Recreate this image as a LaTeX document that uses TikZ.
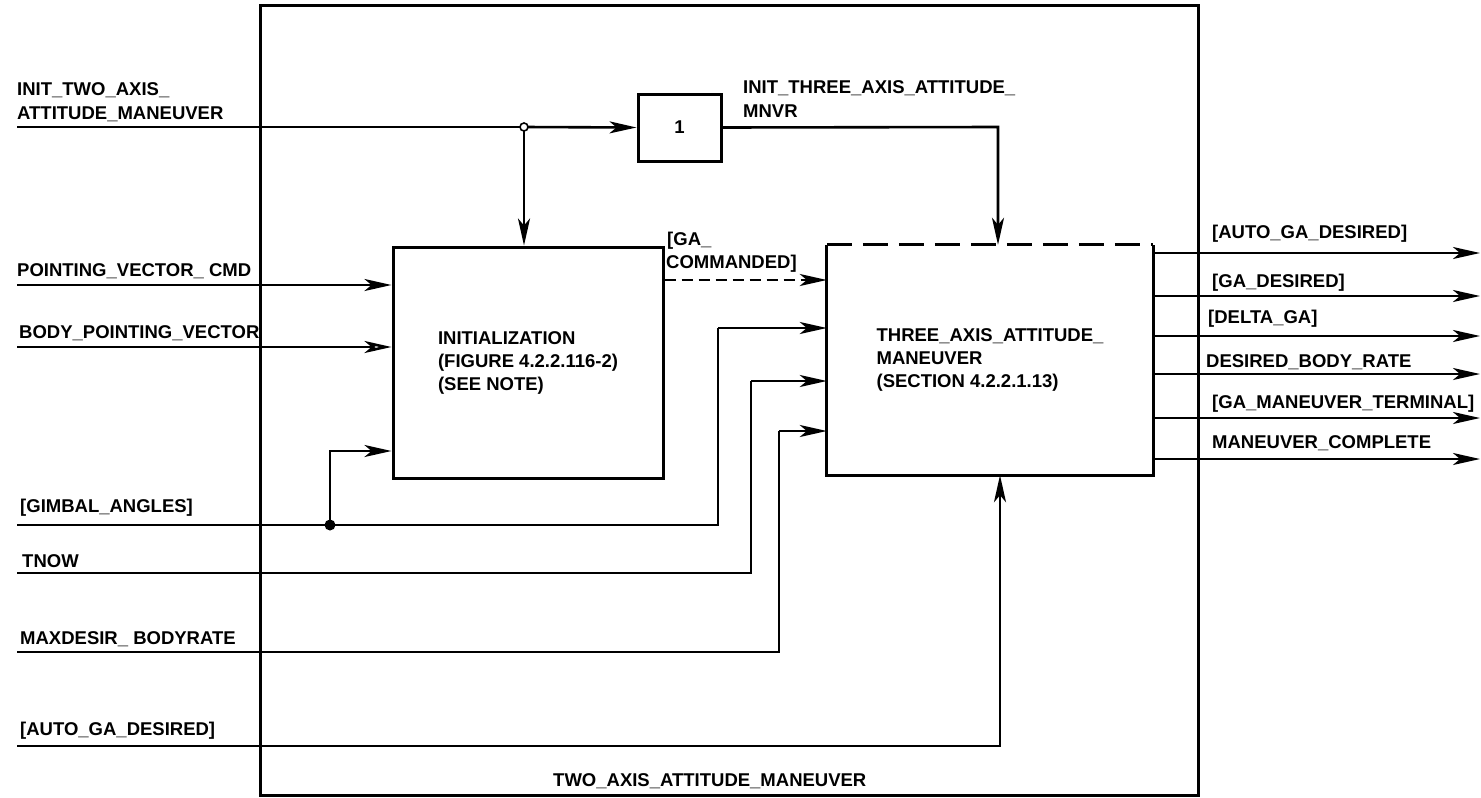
\documentclass[tikz,border=0pt]{standalone}
\usepackage{fontspec}
\setmainfont{Liberation Sans}
\usetikzlibrary{arrows.meta}
\begin{document}
\begin{tikzpicture}[x=1pt,y=-1pt,
  lbl/.style={font=\fontsize{18.5}{23}\selectfont\bfseries, inner sep=0pt, anchor=base west},
  boxtxt/.style={font=\fontsize{18.5}{23}\selectfont\bfseries, align=left, inner sep=0pt},
  wire/.style={line width=2.6pt},
  arr/.style={wire, -{Stealth[length=27pt,width=12pt,inset=7pt]}},
  oarr/.style={wire, -{Stealth[open,length=27pt,width=12pt,inset=7pt]}},
  boxline/.style={line width=3pt},
]
\useasboundingbox (0,0) rectangle (1481,798);

% outer box
\node[draw, boxline, minimum width=938pt, minimum height=790pt, inner sep=0pt] (outer) at (729,400) {};
\node[lbl] (outerlbl) at (553,786) {TWO\_AXIS\_ATTITUDE\_MANEUVER};

% inner boxes
\node[draw, boxline, minimum width=270pt, minimum height=231pt, boxtxt] (init) at (528,362.5)
  {INITIALIZATION\\(FIGURE 4.2.2.116-2)\\(SEE NOTE)};
\node[minimum width=326pt, minimum height=230pt, boxtxt] (tam) at (990,360)
  {THREE\_AXIS\_ATTITUDE\_\\MANEUVER\\(SECTION 4.2.2.1.13)};
\draw[boxline] (tam.north west) -- (tam.south west) -- (tam.south east) -- (tam.north east);
\draw[boxline, dash pattern=on 25pt off 11pt] (tam.north west) -- (tam.north east);
\node[draw, boxline, minimum width=83pt, minimum height=67pt, font=\fontsize{18.5}{23}\selectfont\bfseries] (one) at (679.5,127.5) {1};

% input coordinates
\coordinate (in1) at (17,127);
\coordinate (in2) at (17,285);
\coordinate (in3) at (17,347);
\coordinate (in4) at (17,525);
\coordinate (in5) at (17,573);
\coordinate (in6) at (17,652);
\coordinate (in7) at (17,746);

% input labels
\node[lbl] (l1a) at (17,95) {INIT\_TWO\_AXIS\_};
\node[lbl] (l1b) at (17,119) {ATTITUDE\_MANEUVER};
\node[lbl] (l2) at (17,276) {POINTING\_VECTOR\_ CMD};
\node[lbl] (l3) at (19,338) {BODY\_POINTING\_VECTOR};
\node[lbl] (l4) at (20,512) {[GIMBAL\_ANGLES]};
\node[lbl] (l5) at (22,567) {TNOW};
\node[lbl] (l6) at (20,644) {MAXDESIR\_ BODYRATE};
\node[lbl] (l7) at (20,735) {[AUTO\_GA\_DESIRED]};

% junctions
\coordinate (j1) at (524,127);
\coordinate (j2) at (330,525);

% INIT_TWO_AXIS
\draw[wire] (in1) -- (j1);
\draw[arr] (j1) -- (one.west);
\draw[arr] (j1) -- (j1 |- init.north);
\node[circle, draw, fill=white, line width=1.6pt, inner sep=0pt, minimum size=8pt] (j1c) at (j1) {};

% box 1 -> three axis
\coordinate (c1) at (998,127);
\draw[arr] (one.east) -- (c1) -- (c1 |- tam.north);
\node[lbl] (l8a) at (743,93) {INIT\_THREE\_AXIS\_ATTITUDE\_};
\node[lbl] (l8b) at (743,117) {MNVR};

% pointing vector / body pointing
\draw[arr] (in2) -- (in2 -| init.west);
\draw[oarr] (in3) -- (in3 -| init.west);

% GA commanded
\coordinate (c2) at (660,280);
\draw[arr, dash pattern=on 11pt off 6pt] (c2 -| init.east) -- (c2 -| tam.west);
\node[lbl] (l9a) at (667,245) {[GA\_};
\node[lbl] (l9b) at (666,268) {COMMANDED]};

% gimbal angles
\coordinate (g1) at (718,328);
\coordinate (g2) at (330,451);
\draw[wire] (in4) -- (in4 -| g1) -- (g1);
\draw[arr] (g1) -- (g1 -| tam.west);
\draw[arr] (j2) -- (g2) -- (g2 -| init.west);
\node[circle, fill, inner sep=0pt, minimum size=11pt] (j2c) at (j2) {};

% TNOW
\coordinate (t1) at (751,381);
\draw[wire] (in5) -- (in5 -| t1) -- (t1);
\draw[arr] (t1) -- (t1 -| tam.west);

% MAXDESIR
\coordinate (m1) at (779,431);
\draw[wire] (in6) -- (in6 -| m1) -- (m1);
\draw[arr] (m1) -- (m1 -| tam.west);

% AUTO_GA_DESIRED
\coordinate (a1) at (1000,746);
\draw[arr] (in7) -- (a1) -- (a1 |- tam.south);

% outputs
\coordinate (o1) at (1480,253);
\coordinate (o2) at (1480,296);
\coordinate (o3) at (1480,336);
\coordinate (o4) at (1480,374);
\coordinate (o5) at (1480,418);
\coordinate (o6) at (1480,459);
\foreach \o in {o1,o2,o3,o4,o5,o6} {\draw[arr] (tam.east |- \o) -- (\o);}
\node[lbl] (r1) at (1212,238) {[AUTO\_GA\_DESIRED]};
\node[lbl] (r2) at (1212,287) {[GA\_DESIRED]};
\node[lbl] (r3) at (1208,323) {[DELTA\_GA]};
\node[lbl] (r4) at (1206,367) {DESIRED\_BODY\_RATE};
\node[lbl] (r5) at (1212,408) {[GA\_MANEUVER\_TERMINAL]};
\node[lbl] (r6) at (1212,448) {MANEUVER\_COMPLETE};
\end{tikzpicture}
\end{document}
